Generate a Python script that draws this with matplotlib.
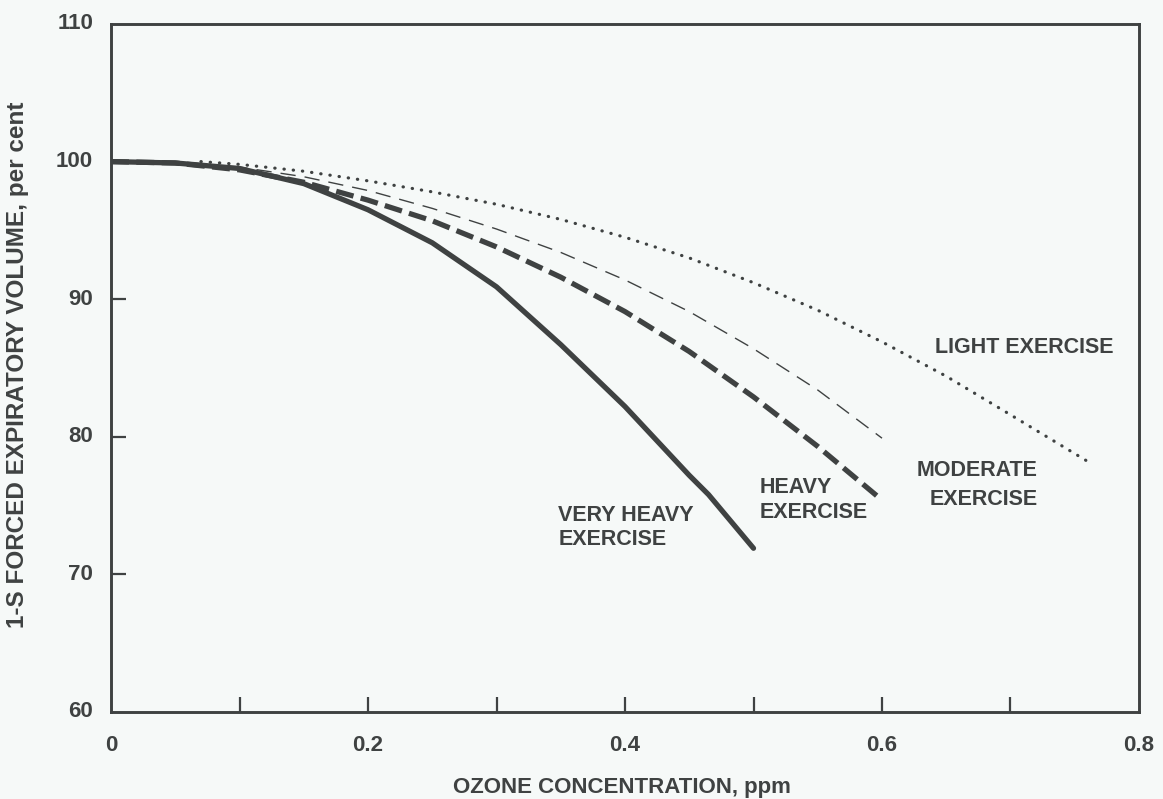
"""Ozone concentration vs 1-s forced expiratory volume, by exercise level."""

import matplotlib.pyplot as plt

INK = "#3f4242"
BG = "#f6f9f8"

plt.rcParams["font.family"] = ["Liberation Sans", "DejaVu Sans"]
plt.rcParams["font.weight"] = "bold"

# curves (ozone ppm, per cent of baseline)
very_heavy_x = [0.0, 0.05, 0.1, 0.15, 0.2, 0.25, 0.3, 0.35, 0.4, 0.45, 0.465, 0.5]
very_heavy_y = [100.0, 99.9, 99.5, 98.4, 96.5, 94.1, 90.9, 86.7, 82.2, 77.2, 75.8, 71.9]

heavy_x = [0.0, 0.05, 0.1, 0.15, 0.2, 0.25, 0.3, 0.35, 0.4, 0.45, 0.5, 0.55, 0.6]
heavy_y = [100.0, 99.9, 99.4, 98.5, 97.2, 95.7, 93.8, 91.6, 89.1, 86.2, 82.9, 79.3, 75.4]

moderate_x = [0.0, 0.05, 0.1, 0.15, 0.2, 0.25, 0.3, 0.35, 0.4, 0.45, 0.5, 0.55, 0.6]
moderate_y = [100.0, 99.9, 99.6, 98.9, 97.9, 96.6, 95.1, 93.4, 91.4, 89.1, 86.4, 83.4, 79.9]

light_x = [0.07, 0.1, 0.15, 0.2, 0.25, 0.3, 0.35, 0.4, 0.45, 0.5, 0.55, 0.6, 0.65, 0.7, 0.762]
light_y = [100.0, 99.8, 99.3, 98.6, 97.8, 96.9, 95.8, 94.5, 93.0, 91.2, 89.2, 86.9, 84.4, 81.6, 78.1]

x_ticks = [0.1, 0.2, 0.3, 0.4, 0.5, 0.6, 0.7]
x_labels = ["0", "0.2", "0.4", "0.6", "0.8"]
y_ticks = [70, 80, 90, 100]
y_labels = ["60", "70", "80", "90", "100", "110"]

fig = plt.figure(figsize=(11.63, 7.99), dpi=100, facecolor=BG)
ax = fig.add_axes([111 / 1163, 87 / 799, 1028 / 1163, 688 / 799], facecolor=BG)

ax.plot(very_heavy_x, very_heavy_y, color=INK, lw=3.8, solid_capstyle="round",
        solid_joinstyle="round")
ax.plot(heavy_x, heavy_y, color=INK, lw=3.8, dashes=(3.4, 1.4))
ax.plot(moderate_x, moderate_y, color=INK, lw=1.0, dashes=(11, 6.5))
ax.plot(light_x, light_y, color=INK, lw=2.3, dashes=(0.1, 2.8), dash_capstyle="round")

ax.set_xlim(0, 0.8)
ax.set_ylim(60, 110)

# inner ticks without labels, labels drawn as text on the major grid
ax.set_xticks(x_ticks)
ax.set_xticklabels([])
ax.set_yticks(y_ticks)
ax.set_yticklabels([])
ax.tick_params(axis="both", direction="in", length=11, width=1.6, color=INK)
for s in ax.spines.values():
    s.set_color(INK)
    s.set_linewidth(2.1)

for i, lab in enumerate(x_labels):
    ax.text(i * 0.2, -0.048, lab, transform=ax.get_xaxis_transform(),
            ha="center", va="center", fontsize=16, color=INK)
for i, lab in enumerate(y_labels):
    ax.text(-0.0175, 60 + i * 10, lab, transform=ax.get_yaxis_transform(),
            ha="right", va="center", fontsize=16, color=INK)

ax.text(0.497, -0.11, "OZONE CONCENTRATION, ppm", transform=ax.transAxes,
        ha="center", va="center", fontsize=16, color=INK)
fig.text(18 / 1163, 1 - 365 / 799, "1-S FORCED EXPIRATORY VOLUME, per cent",
         rotation=90, ha="center", va="center", fontsize=17.5, color=INK)

lab_kw = dict(fontsize=15.5, color=INK, va="center")
ax.text(0.7105, 86.5, "LIGHT EXERCISE", ha="center", **lab_kw)
ax.text(0.7214, 76.5, "MODERATE\nEXERCISE", ha="right", multialignment="right",
        linespacing=1.45, **lab_kw)
ax.text(0.505, 75.4, "HEAVY\nEXERCISE", ha="left", linespacing=1.2, **lab_kw)
ax.text(0.348, 73.4, "VERY HEAVY\nEXERCISE", ha="left", linespacing=1.2, **lab_kw)

fig.savefig("out.png", dpi=100, facecolor=BG)
